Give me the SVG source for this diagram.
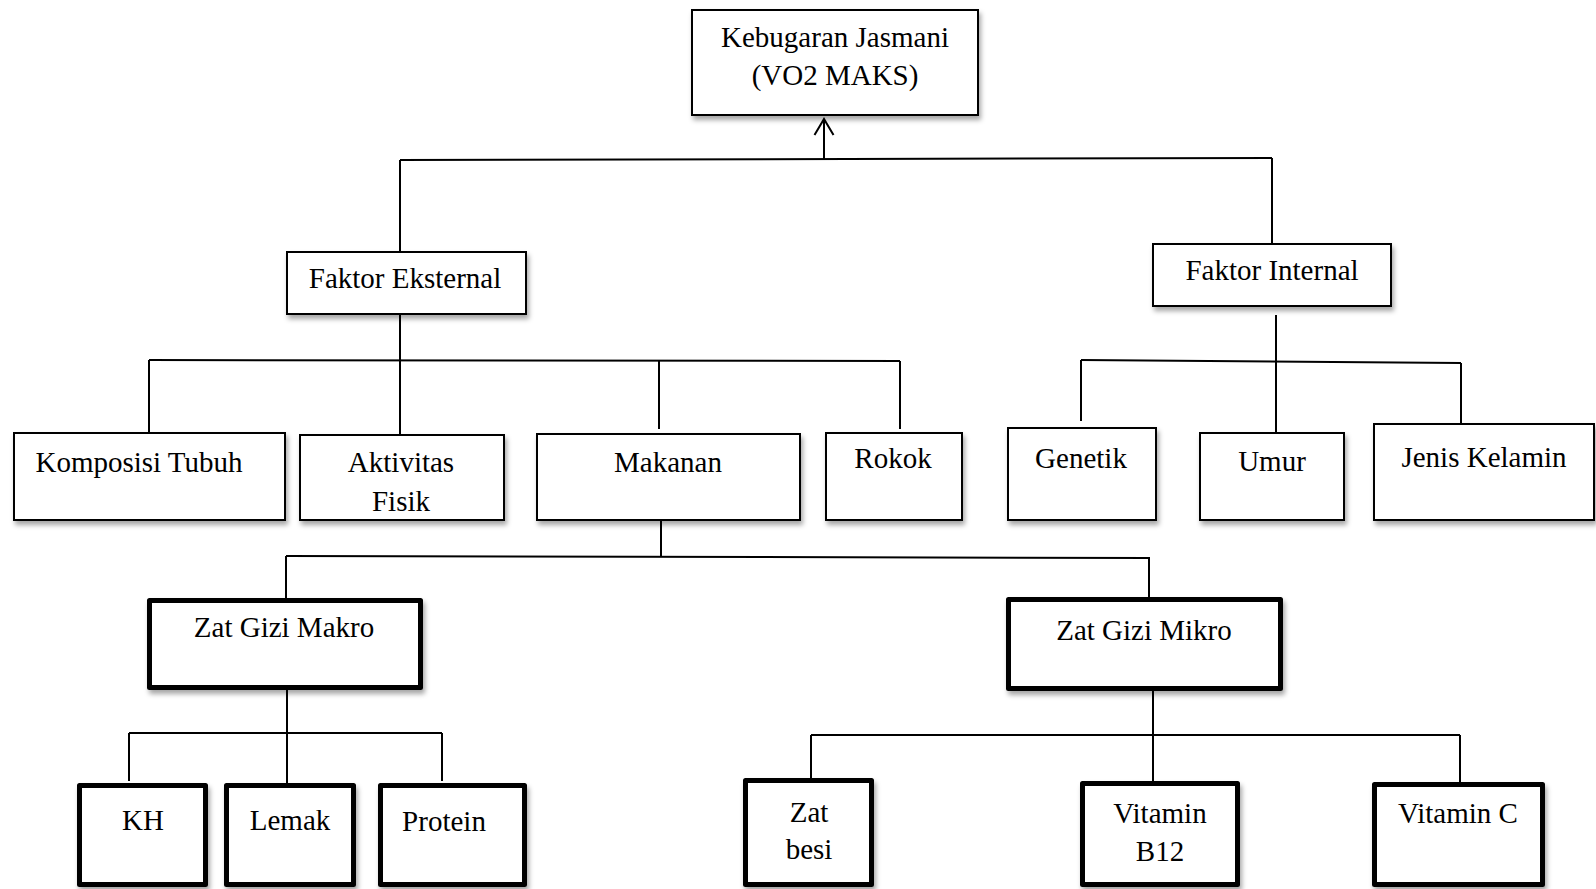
<svg xmlns="http://www.w3.org/2000/svg" width="1596" height="889" viewBox="0 0 1596 889">
<style>
.box{fill:#fff;stroke:#000;stroke-width:2;filter:url(#sh)}
.tbox{fill:#fff;stroke:#000;stroke-width:5;stroke-linejoin:round;filter:url(#sh)}
.lbl{font-family:"Liberation Serif","Times New Roman",serif;font-size:29px;fill:#000;text-anchor:middle}
.con{fill:none;stroke:#000;stroke-width:2}
</style>
<defs>
<filter id="sh" x="-10%" y="-10%" width="120%" height="130%">
<feDropShadow dx="2" dy="4" stdDeviation="2.5" flood-color="#000" flood-opacity="0.35"/>
</filter>
<marker id="arr" markerWidth="24" markerHeight="24" refX="22" refY="12" orient="auto" markerUnits="userSpaceOnUse" viewBox="0 0 24 24">
<path d="M6 2.5 L22 12 L6 21.5" fill="none" stroke="#000" stroke-width="2"/>
</marker>
</defs>
<rect width="1596" height="889" fill="#fff"/>
<g id="connectors">
<path class="con" d="M400 160 L1272 158"/>
<path class="con" d="M824 160 L824 119" marker-end="url(#arr)"/>
<path class="con" d="M400 160 L400 251"/>
<path class="con" d="M1272 158 L1272 243"/>
<path class="con" d="M400 315 L400 434"/>
<path class="con" d="M149 360 L900 361"/>
<path class="con" d="M149 360 L149 432"/>
<path class="con" d="M659 361 L659 429"/>
<path class="con" d="M900 361 L900 429"/>
<path class="con" d="M1276 315 L1276 432"/>
<path class="con" d="M1081 360 L1461 363"/>
<path class="con" d="M1081 360 L1081 421"/>
<path class="con" d="M1461 363 L1461 423"/>
<path class="con" d="M661 521 L661 556"/>
<path class="con" d="M286 556 L1150 558"/>
<path class="con" d="M286 556 L286 598"/>
<path class="con" d="M1149 558 L1149 597"/>
<path class="con" d="M287 690 L287 783"/>
<path class="con" d="M129 733 L442 733"/>
<path class="con" d="M129 733 L129 781"/>
<path class="con" d="M442 733 L442 781"/>
<path class="con" d="M1153 691 L1153 781"/>
<path class="con" d="M811 735 L1460 735"/>
<path class="con" d="M811 735 L811 779"/>
<path class="con" d="M1460 735 L1460 782"/>
</g>
<g id="kebugaran"><rect class="box" x="692" y="10" width="286" height="105"/><text class="lbl" x="835" y="47">Kebugaran Jasmani</text><text class="lbl" x="835" y="85">(VO2 MAKS)</text></g>
<g id="faktor-eksternal"><rect class="box" x="287" y="252" width="239" height="62"/><text class="lbl" x="405" y="288">Faktor Eksternal</text></g>
<g id="faktor-internal"><rect class="box" x="1153" y="244" width="238" height="62"/><text class="lbl" x="1272" y="280">Faktor Internal</text></g>
<g id="komposisi"><rect class="box" x="14" y="433" width="271" height="87"/><text class="lbl" x="139" y="472">Komposisi Tubuh</text></g>
<g id="aktivitas"><rect class="box" x="300" y="435" width="204" height="85"/><text class="lbl" x="401" y="472">Aktivitas</text><text class="lbl" x="401" y="511">Fisik</text></g>
<g id="makanan"><rect class="box" x="537" y="434" width="263" height="86"/><text class="lbl" x="668" y="472">Makanan</text></g>
<g id="rokok"><rect class="box" x="826" y="433" width="136" height="87"/><text class="lbl" x="893" y="468">Rokok</text></g>
<g id="genetik"><rect class="box" x="1008" y="428" width="148" height="92"/><text class="lbl" x="1081" y="468">Genetik</text></g>
<g id="umur"><rect class="box" x="1200" y="433" width="144" height="87"/><text class="lbl" x="1272" y="471">Umur</text></g>
<g id="jenis-kelamin"><rect class="box" x="1374" y="424" width="220" height="96"/><text class="lbl" x="1484" y="467">Jenis Kelamin</text></g>
<g id="zat-gizi-makro"><rect class="tbox" x="149.5" y="600.5" width="271" height="87"/><text class="lbl" x="284" y="637">Zat Gizi Makro</text></g>
<g id="zat-gizi-mikro"><rect class="tbox" x="1008.5" y="599.5" width="272" height="89"/><text class="lbl" x="1144" y="640">Zat Gizi Mikro</text></g>
<g id="kh"><rect class="tbox" x="79.5" y="785.5" width="126" height="99"/><text class="lbl" x="143" y="830">KH</text></g>
<g id="lemak"><rect class="tbox" x="226.5" y="785.5" width="127" height="99"/><text class="lbl" x="290" y="830">Lemak</text></g>
<g id="protein"><rect class="tbox" x="380.5" y="785.5" width="144" height="99"/><text class="lbl" x="444" y="831">Protein</text></g>
<g id="zat-besi"><rect class="tbox" x="745.5" y="780.5" width="126" height="104"/><text class="lbl" x="809" y="822">Zat</text><text class="lbl" x="809" y="859">besi</text></g>
<g id="vitamin-b12"><rect class="tbox" x="1082.5" y="783.5" width="155" height="101"/><text class="lbl" x="1160" y="823">Vitamin</text><text class="lbl" x="1160" y="861">B12</text></g>
<g id="vitamin-c"><rect class="tbox" x="1374.5" y="784.5" width="168" height="100"/><text class="lbl" x="1458" y="823">Vitamin C</text></g>
</svg>
